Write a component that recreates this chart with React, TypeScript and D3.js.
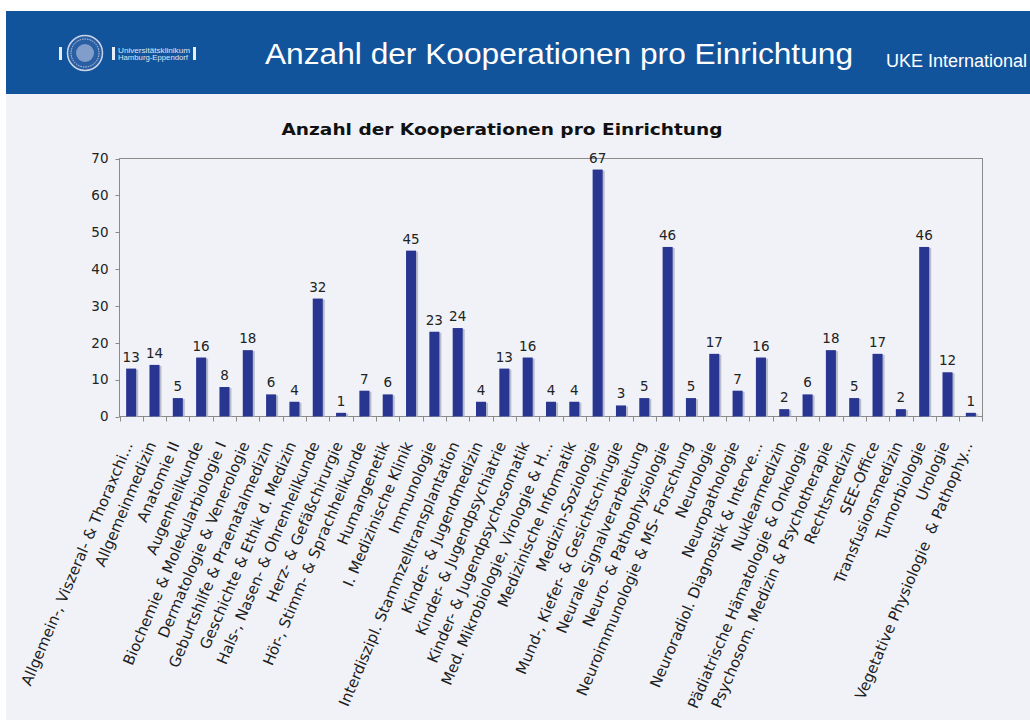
import React from "react";
import * as d3 from "d3";

const categories: string[] = [
  "Allgemein-, Viszeral- & Thoraxchi...",
  "Allgemeinmedizin",
  "Anatomie II",
  "Augenheilkunde",
  "Biochemie & Molekularbiologie I",
  "Dermatologie & Venerologie",
  "Geburtshilfe & Praenatalmedizin",
  "Geschichte & Ethik d. Medizin",
  "Hals-, Nasen- & Ohrenheilkunde",
  "Herz- & Gefäßchirurgie",
  "Hör-, Stimm- & Sprachheilkunde",
  "Humangenetik",
  "I. Medizinische Klinik",
  "Immunologie",
  "Interdiszipl. Stammzelltransplantation",
  "Kinder- & Jugendmedizin",
  "Kinder- & Jugendpsychiatrie",
  "Kinder- & Jugendpsychosomatik",
  "Med. Mikrobiologie, Virologie & H...",
  "Medizinische Informatik",
  "Medizin-Soziologie",
  "Mund-, Kiefer- & Gesichtschirugie",
  "Neurale Signalverarbeitung",
  "Neuro- & Pathophysiologie",
  "Neuroimmunologie & MS- Forschung",
  "Neurologie",
  "Neuropathologie",
  "Neuroradiol. Diagnostik & Interve...",
  "Nuklearmedizin",
  "Pädiatrische Hämatologie & Onkologie",
  "Psychosom. Medizin & Psychotherapie",
  "Rechtsmedizin",
  "SEE-Office",
  "Transfusionsmedizin",
  "Tumorbiologie",
  "Urologie",
  "Vegetative Physiologie\u00a0 & Pathophy...",
];

const values: number[] = [
  13, 14, 5, 16, 8, 18, 6, 4, 32, 1, 7, 6, 45, 23, 24, 4, 13, 16, 4, 4, 67, 3, 5,
  46, 5, 17, 7, 16, 2, 6, 18, 5, 17, 2, 46, 12, 1,
];

const yTicks: number[] = [0, 10, 20, 30, 40, 50, 60, 70];

const chartTitle = "Anzahl der Kooperationen pro Einrichtung";
const headerTitle = "Anzahl der Kooperationen pro Einrichtung";
const headerRight = "UKE International";
const logoLines: string[] = ["Universitätsklinikum", "Hamburg-Eppendorf"];

export default function App() {
  const W = 1030;
  const H = 720;
  const left = 119.5;
  const right = 982.5;
  const top = 158.5;
  const bottom = 416.5;

  const x = d3.scaleBand<string>().domain(categories).range([left, right]).padding(0);
  const y = d3.scaleLinear().domain([0, 70]).range([bottom, top]);
  const bw = x.bandwidth() * 0.43;

  const barColor = "#283591";
  const shadow = "#b9bdcc";
  const axisColor = "#8a8a8a";
  const font = "'DejaVu Sans', Verdana, sans-serif";
  const sans = "'Liberation Sans', Arial, sans-serif";

  return (
    <svg
      width={W}
      height={H}
      style={{ position: "absolute", left: 0, top: 0, display: "block" }}
    >
      <rect x={0} y={0} width={W} height={H} fill="#ffffff" />
      <rect x={6} y={94} width={W - 6} height={H - 94} fill="#f0f2f8" />
      {/* header */}
      <rect x={6} y={11} width={W - 6} height={83} fill="#12549c" />
      {/* logo */}
      <g>
        <rect x={59} y={47} width={3} height={13} fill="#e8ecf5" />
        <circle cx={85} cy={53} r={17.5} fill="#2a5fa3" stroke="#c9d3e8" strokeWidth={1.5} />
        <circle cx={85} cy={53} r={14} fill="none" stroke="#c9d3e8" strokeWidth={1} strokeDasharray="1.5 1" />
        <circle cx={85} cy={53} r={9} fill="#9fb1d6" opacity={0.75} />
        <rect x={112} y={47} width={3} height={13} fill="#e8ecf5" />
        {logoLines.map((t, i) => (
          <text
            key={t}
            x={118}
            y={53 + i * 7}
            fill="#dfe5f2"
            fontSize={7}
            fontFamily={sans}
            textLength={i === 0 ? 72 : 70}
            lengthAdjust="spacingAndGlyphs"
          >
            {t}
          </text>
        ))}
        <rect x={193} y={47} width={3} height={13} fill="#e8ecf5" />
      </g>
      <text
        x={265}
        y={64}
        fill="#ffffff"
        fontSize={29}
        fontFamily={sans}
        textLength={588}
        lengthAdjust="spacingAndGlyphs"
      >
        {headerTitle}
      </text>
      <text x={886} y={67} fill="#ffffff" fontSize={18} fontFamily={sans}>
        {headerRight}
      </text>

      {/* chart title */}
      <text
        x={502}
        y={135}
        textAnchor="middle"
        fontSize={16}
        fontWeight="bold"
        fontFamily={font}
        fill="#111"
        textLength={441}
        lengthAdjust="spacingAndGlyphs"
      >
        {chartTitle}
      </text>

      {/* plot frame */}
      <rect
        x={left}
        y={top}
        width={right - left}
        height={bottom - top}
        fill="none"
        stroke={axisColor}
        strokeWidth={1}
      />

      {/* y ticks */}
      {yTicks.map((t) => (
        <g key={"y" + t}>
          <line x1={left - 4} x2={left} y1={Math.round(y(t)) + 0.5} y2={Math.round(y(t)) + 0.5} stroke={axisColor} />
          <text
            x={left - 11}
            y={y(t)}
            dy="0.35em"
            textAnchor="end"
            fontSize={13.5}
            fontFamily={font}
            fill="#222"
          >
            {t}
          </text>
        </g>
      ))}

      {/* x ticks */}
      {categories.map((c) => (
        <line
          key={"xt" + c}
          x1={Math.round(x(c)!) + 0.5}
          x2={Math.round(x(c)!) + 0.5}
          y1={bottom}
          y2={bottom + 5}
          stroke={axisColor}
        />
      ))}
      <line x1={right} x2={right} y1={bottom} y2={bottom + 5} stroke={axisColor} />

      {/* bars */}
      {categories.map((c, i) => {
        const cx = x(c)! + x.bandwidth() / 2;
        const v = values[i];
        const yt = y(v);
        return (
          <g key={"b" + i}>
            <rect x={cx - bw / 2 + 2} y={yt + 1} width={bw} height={bottom - yt - 1} fill={shadow} />
            <rect x={cx - bw / 2} y={yt} width={bw} height={bottom - yt} fill={barColor} />
            <text
              x={cx}
              y={yt - 7}
              textAnchor="middle"
              fontSize={13.5}
              fontFamily={font}
              fill="#222"
            >
              {v}
            </text>
          </g>
        );
      })}

      {/* x labels */}
      {categories.map((c) => {
        const cx = x(c)! + x.bandwidth() / 2;
        return (
          <text
            key={"xl" + c}
            transform={`translate(${cx + 2},${bottom + 28}) rotate(-67)`}
            textAnchor="end"
            fontSize={15}
            fontFamily={font}
            fill="#1e1e1e"
          >
            {c}
          </text>
        );
      })}
    </svg>
  );
}
